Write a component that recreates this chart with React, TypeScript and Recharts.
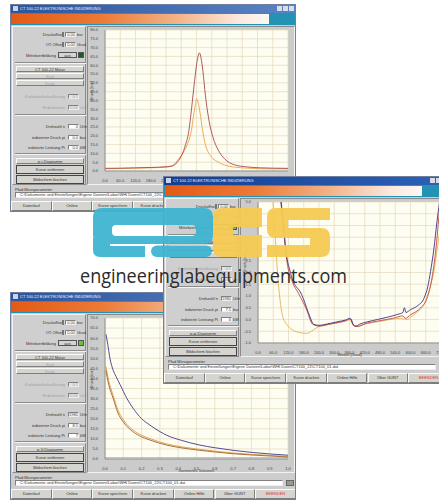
import { LineChart, Line, XAxis, YAxis, CartesianGrid } from 'recharts';

// ---- window 1: p-t diagram (pressure peak) ----
const w1XTicks = [0, 60, 120, 180, 240, 300, 360, 420, 480, 540, 600, 660, 720];
const w1YTicks = [0, 5, 10, 15, 20, 25, 30, 35, 40, 45, 50, 55, 60, 65, 70, 75, 80];
const w1DarkX = [0, 60, 120, 180, 240, 263, 290, 302, 317, 329, 341, 350, 360, 366, 372, 378, 385, 395, 410, 425, 445, 470, 510, 560, 612, 660, 720];
const w1DarkY = [1.5, 1.6, 1.8, 2.0, 2.4, 2.8, 6, 9, 15, 22, 36, 48, 60, 65, 67, 64, 57, 43, 28, 19, 12, 7, 3.5, 2.3, 1.8, 1.6, 1.5];
const w1OrangeX = [0, 60, 120, 180, 240, 263, 290, 310, 329, 340, 348, 355, 360, 366, 374, 383, 393, 405, 418, 440, 470, 510, 560, 612, 660, 720];
const w1OrangeY = [1.2, 1.4, 1.6, 1.8, 2.2, 2.8, 7, 11, 17, 23, 31, 37, 41, 39, 33, 24, 16, 11, 8, 5.5, 3.4, 2.2, 1.6, 1.3, 1.2, 1.2];

// ---- window 2: p-phi diagram, zoomed ----
const w2XTicks = [0, 60, 120, 180, 240, 300, 360, 420, 480, 540, 600, 660, 720];
const w2YTicks = [-1, -0.5, 0, 0.5, 1, 1.5, 2, 2.5, 3, 3.5, 4, 4.5, 5];
const w2NavyX = [60, 80, 90, 99, 112, 125, 138, 150, 165, 178, 191, 205, 218, 240, 260, 290, 320, 345, 360, 366, 375, 385, 400, 430, 470, 510, 550, 570, 576, 582, 600, 630, 653, 668, 679, 692, 704, 714, 720];
const w2NavyY = [9, 6.2, 5.0, 4.15, 2.75, 2.1, 1.62, 1.4, 1.2, 0.9, 0.5, 0.1, -0.2, -0.25, -0.22, -0.15, -0.08, -0.02, 0.05, 0.02, -0.22, -0.28, -0.2, -0.1, 0.0, 0.1, 0.22, 0.3, 0.5, 0.3, 0.42, 0.6, 0.9, 1.4, 2.05, 3.0, 4.15, 5.0, 5.6];
const w2RedX = [70, 92, 105, 118, 135, 160, 190, 215, 240, 290, 345, 362, 376, 390, 430, 480, 530, 570, 580, 600, 640, 665, 685, 700, 712, 720];
const w2RedY = [8, 5.0, 3.3, 2.2, 1.6, 1.1, 0.45, -0.2, -0.28, -0.18, -0.05, 0.02, -0.25, -0.3, -0.15, -0.05, 0.05, 0.15, 0.05, 0.2, 0.5, 0.9, 1.8, 3.0, 4.4, 5.3];
const w2OrangeX = [40, 59, 65, 72, 79, 86, 92, 99, 112, 125, 145, 165, 191, 210, 231, 255, 284, 320, 350, 362, 375, 385, 420, 470, 520, 560, 587, 600, 625, 653, 672, 692, 705, 720];
const w2OrangeY = [9, 5, 4, 2.75, 1.7, 0.9, 0.4, 0.07, -0.2, -0.35, -0.5, -0.56, -0.59, -0.5, -0.35, -0.25, -0.2, -0.12, -0.05, 0.0, -0.25, -0.3, -0.2, -0.1, 0.0, 0.05, 0.0, 0.1, 0.3, 0.64, 1.2, 2.05, 3.0, 4.15];

// ---- window 3: p-V diagram ----
const w3XTicks = [0, 0.1, 0.2, 0.3, 0.4, 0.5, 0.6, 0.7, 0.8, 0.9, 1.0];
const w3YTicks = [0, 5, 10, 15, 20, 25, 30, 35, 40, 45, 50, 55, 60, 65, 70];
const w3NavyX = [0.005, 0.015, 0.027, 0.045, 0.06, 0.082, 0.12, 0.155, 0.2, 0.246, 0.3, 0.337, 0.42, 0.519, 0.6, 0.7, 0.8, 0.9, 1.0];
const w3NavyY = [62, 57, 50, 44, 41, 37, 30, 25, 20, 16.8, 13.6, 11.8, 9.2, 6.9, 5.6, 4.3, 3.3, 2.5, 1.9];
const w3BrownX = [0.005, 0.02, 0.045, 0.07, 0.1, 0.155, 0.2, 0.246, 0.337, 0.42, 0.519, 0.6, 0.7, 0.8, 0.9, 1.0];
const w3BrownY = [44, 37, 30, 23, 18.4, 13.4, 11, 9.4, 6.9, 5.5, 4.3, 3.5, 2.6, 2.0, 1.5, 1.0];
const w3OrangeY = [46, 39, 31.5, 24.5, 19.5, 14.3, 11.8, 10.1, 7.5, 6.0, 4.8, 3.9, 3.0, 2.3, 1.8, 1.3];
const w3BaseX = [0, 1.0];
const w3BaseY = [0.6, 0.6];

const bottomButtons = ['Datenlauf', 'Online', 'Kurve speichern', 'Kurve drucken', 'Online Hilfe', 'Über GUNT', 'BEENDEN'];
const windowTitle = 'CT 100.22 ELEKTRONISCHE INDIZIERUNG';
const filePath = 'C:\\Dokumente und Einstellungen\\Eigene Dateien\\Labor\\WHI Daten\\CT100_22\\CT100_01.dat';

type Series = { x: number[]; y: number[]; color: string };

const pts = (xs: number[], ys: number[]) => xs.map((x, i) => ({ x, y: ys[i] }));

const FONT = '"Liberation Sans", Arial, sans-serif';

function box(l: number, t: number, w: number, h: number, extra: React.CSSProperties = {}): React.CSSProperties {
  return { position: 'absolute', left: l, top: t, width: w, height: h, boxSizing: 'border-box', ...extra };
}

const raised: React.CSSProperties = {
  background: '#d6d4cf',
  borderTop: '1px solid #fafafa',
  borderLeft: '1px solid #fafafa',
  borderRight: '1px solid #7d7d7d',
  borderBottom: '1px solid #7d7d7d',
  fontSize: 4,
  color: '#333',
  textAlign: 'center',
  lineHeight: '5px',
  overflow: 'hidden',
  whiteSpace: 'nowrap',
};

const sunken: React.CSSProperties = {
  background: '#fff',
  borderTop: '1px solid #808080',
  borderLeft: '1px solid #808080',
  borderRight: '1px solid #eee',
  borderBottom: '1px solid #eee',
  fontSize: 4,
  color: '#333',
  lineHeight: '4px',
  overflow: 'hidden',
  whiteSpace: 'nowrap',
};

function Txt({ l, t, w, children, align = 'right', color = '#333' }: { l: number; t: number; w: number; children: React.ReactNode; align?: 'left' | 'right' | 'center'; color?: string }) {
  return (
    <div style={{ ...box(l, t, w, 5), fontSize: 4, lineHeight: '5px', color, textAlign: align, whiteSpace: 'nowrap', overflow: 'hidden' }}>{children}</div>
  );
}

function Sep({ t }: { t: number }) {
  return <div style={{ ...box(2, t, 71, 2), borderTop: '1px solid #8c8c8c', borderBottom: '1px solid #f4f4f4' }} />;
}

function Field({ l, t, label, value, unit, grey = false, lw = 48 }: { l: number; t: number; label: string; value: string; unit: string; grey?: boolean; lw?: number }) {
  const c = grey ? '#a0a0a0' : '#333';
  return (
    <>
      <Txt l={2} t={t} w={lw} color={c}>{label}</Txt>
      <div style={{ ...box(l, t, 11, 5), ...sunken, background: grey ? '#e4e4e4' : '#fff', textAlign: 'right', color: c }}>{value}</div>
      <Txt l={l + 12} t={t} w={12} align="left" color={c}>{unit}</Txt>
    </>
  );
}

function Sidebar({ diagram, green, rpm, pi, Pi }: { diagram: string; green: string; rpm: string; pi: string; Pi: string }) {
  return (
    <div style={{ ...box(1, 21, 74, 159), background: '#cfcfcf', borderTop: '1px solid #f2f2f2', borderLeft: '1px solid #f2f2f2', borderRight: '1px solid #8a8a8a', borderBottom: '1px solid #8a8a8a' }}>
      <Field l={52} t={5} label="Druckoffset" value="0.00" unit="bar" />
      <div style={{ ...box(49, 5, 2, 5), background: '#777' }} />
      <Field l={52} t={15} label="OT-Offset" value="0.00" unit="Grad" />
      <div style={{ ...box(49, 15, 2, 5), background: '#777' }} />
      <Txt l={2} t={26} w={41}>Mittelwertbildung</Txt>
      <div style={{ ...box(45, 25, 19, 6), ...raised, border: '1px solid #555' }}>aus</div>
      <div style={{ ...box(65, 25, 6, 6), background: green, border: '1px solid #555' }} />
      <Sep t={35} />
      <div style={{ ...box(3, 39, 68, 6), ...raised }}>CT 100.22 Motor</div>
      <div style={{ ...box(3, 46, 68, 6), ...raised, color: '#a8a8a8' }}>Start</div>
      <div style={{ ...box(3, 53, 68, 6), ...raised, color: '#a8a8a8' }}>Ende</div>
      <Field l={55} t={67} label="Kurbelwinkelauflösung" value="0.5" unit="" grey lw={50} />
      <Field l={55} t={78} label="Hubvolumen" value="0.00" unit="cm³" grey lw={50} />
      <Sep t={87} />
      <Field l={55} t={97} label="Drehzahl n" value={rpm} unit="U/min" lw={50} />
      <Field l={55} t={108} label="indizierter Druck pi" value={pi} unit="bar" lw={50} />
      <Field l={55} t={118} label="indizierte Leistung Pi" value={Pi} unit="kW" lw={50} />
      <Sep t={126} />
      <div style={{ ...box(3, 131, 68, 6), ...raised }}>{diagram}</div>
      <div style={{ ...box(3, 138, 68, 9), ...raised, border: '1px solid #444', lineHeight: '7px' }}>Kurve entfernen</div>
      <div style={{ ...box(3, 148, 68, 9), ...raised, border: '1px solid #444', lineHeight: '7px' }}>Bildschirm löschen</div>
    </div>
  );
}

type WinProps = {
  left: number;
  top: number;
  z: number;
  active?: boolean;
  xTicks: number[];
  yTicks: number[];
  xDomain: [number, number];
  yDomain: [number, number];
  series: Series[];
  xLabel: string;
  diagram: string;
  green: string;
  rpm: string;
  pi: string;
  Pi: string;
};

function Win(p: WinProps) {
  const fmt = (v: number) => v.toFixed(1);
  return (
    <div style={{ ...box(p.left, p.top, 286, 208), zIndex: p.z, background: '#cdcdcd', border: '1px solid #6f7f9f', fontFamily: FONT, overflow: 'hidden' }}>
      {/* title bar */}
      <div style={{ ...box(0, 0, 286, 8), background: p.active ? 'linear-gradient(90deg,#133f91,#2d62b8)' : 'linear-gradient(90deg,#2a559f,#5a84c4)' }}>
        <div style={{ ...box(2, 1, 5, 5), background: '#c8d4e8' }} />
        <Txt l={9} t={1} w={150} align="left" color="#eef2ff">{windowTitle}</Txt>
        <div style={{ ...box(266, 1, 5, 5), background: '#d8dde8' }} />
        <div style={{ ...box(272, 1, 5, 5), background: '#d8dde8' }} />
        <div style={{ ...box(278, 1, 5, 5), background: '#d8dde8' }} />
      </div>
      {/* orange banner */}
      <div style={{ ...box(0, 8, 286, 12), background: '#2492b2' }} />
      <div style={{ ...box(1, 9, 257, 10), background: 'linear-gradient(90deg,#e45a14 0%,#ec7a36 35%,#f4b48a 65%,#fbe8dc 88%,#fdf8f4 100%)' }} />
      <Sidebar diagram={p.diagram} green={p.green} rpm={p.rpm} pi={p.pi} Pi={p.Pi} />
      {/* chart panel */}
      <div style={{ ...box(76, 21, 208, 159), background: '#cbcbcb', borderTop: '1px solid #8a8a8a', borderLeft: '1px solid #8a8a8a', borderRight: '1px solid #f2f2f2', borderBottom: '1px solid #f2f2f2' }} />
      <div style={{ position: 'absolute', left: 76, top: 21 }}>
        <LineChart width={208} height={162} margin={{ top: 4, right: 7, bottom: 2, left: 4 }}>
          <CartesianGrid stroke="#e2d9bd" strokeWidth={0.7} fill="#fefdf1" />
          <XAxis
            type="number"
            dataKey="x"
            domain={p.xDomain}
            ticks={p.xTicks}
            interval={0}
            allowDataOverflow
            tickFormatter={fmt}
            tick={{ fontSize: 4, fill: '#444', fontFamily: FONT }}
            tickLine={false}
            tickMargin={2}
            axisLine={{ stroke: '#8c8c8c' }}
            height={15}
            label={{ value: p.xLabel, position: 'insideBottom', offset: 2, fontSize: 4, fill: '#444' }}
          />
          <YAxis
            type="number"
            domain={p.yDomain}
            ticks={p.yTicks}
            interval={0}
            allowDataOverflow
            tickFormatter={fmt}
            tick={{ fontSize: 4, fill: '#444', fontFamily: FONT }}
            tickLine={false}
            tickMargin={1}
            axisLine={{ stroke: '#8c8c8c' }}
            width={14}
            label={{ value: 'Druck [bar]', angle: -90, position: 'insideLeft', offset: 1, fontSize: 4, fill: '#444' }}
          />
          {p.series.map((s, i) => (
            <Line
              key={i}
              data={pts(s.x, s.y)}
              dataKey="y"
              type="monotone"
              stroke={s.color}
              strokeWidth={0.9}
              dot={false}
              activeDot={false}
              isAnimationActive={false}
            />
          ))}
        </LineChart>
      </div>
      {/* file path */}
      <Txt l={4} t={182} w={80} align="left">Pfad Messparameter</Txt>
      <div style={{ ...box(4, 187, 268, 6), ...sunken, paddingLeft: 4 }}>{filePath}</div>
      <div style={{ ...box(275, 187, 8, 6), background: '#9a9a8a', border: '1px solid #666' }} />
      {/* bottom buttons */}
      {bottomButtons.map((b, i) => (
        <div key={b} style={{ ...box(i * 40.7, 196, 40.7, 10), ...raised, lineHeight: '8px', color: i === 6 ? '#e03030' : '#333' }}>{b}</div>
      ))}
      <div style={{ ...box(0, 206, 36, 2), background: '#4aa84a' }} />
    </div>
  );
}

function Logo() {
  const blue = '#3fb5d1';
  const yellow = '#f6cb52';
  return (
    <svg width={439} height={502} style={{ position: 'absolute', left: 0, top: 0, zIndex: 10, pointerEvents: 'none' }}>
      <g fill={blue} opacity={0.95}>
        <path fillRule="evenodd" d="M102 208 H204 Q213 208 213 217 V236 Q213 244 204 244 H102 Q93 244 93 235 V217 Q93 208 102 208 Z M116 225 H192 Q196 225 196 229 V232 Q196 236 192 236 H116 Q112 236 112 232 V229 Q112 225 116 225 Z" />
        <path d="M93 238 H110 V246 H145 V257 H100 Q93 257 93 250 Z" />
        <rect x={151} y={245.5} width={61} height={11.5} rx={5.75} />
      </g>
      <g fill={yellow} opacity={0.95}>
        <path d="M222 208 H262 V227 H233 V235 H262 V257 H222 Q213 257 213 248 V217 Q213 208 222 208 Z" />
        <path d="M276 208 H330 V220 H288 V228 H321 Q330 228 330 237 V248 Q330 257 321 257 H267 V245 H310 V238 H276 Q267 238 267 229 V217 Q267 208 276 208 Z" />
      </g>
      <text
        x={80}
        y={283}
        fontFamily='"Open Sans", "Noto Sans", sans-serif'
        fontSize={20}
        fill="#2b2b2b"
        textLength={267}
        lengthAdjust="spacingAndGlyphs"
      >
        engineeringlabequipments.com
      </text>
    </svg>
  );
}

export default function App() {
  const w1: Series[] = [
    { x: w1OrangeX, y: w1OrangeY, color: '#eba24c' },
    { x: w1DarkX, y: w1DarkY, color: '#a4494c' },
  ];
  const w2: Series[] = [
    { x: w2OrangeX, y: w2OrangeY, color: '#e2b458' },
    { x: w2RedX, y: w2RedY, color: '#c4484a' },
    { x: w2NavyX, y: w2NavyY, color: '#3b3183' },
  ];
  const w3: Series[] = [
    { x: w3BaseX, y: w3BaseY, color: '#8fa6e2' },
    { x: w3BrownX, y: w3OrangeY, color: '#e39c44' },
    { x: w3BrownX, y: w3BrownY, color: '#9c6232' },
    { x: w3NavyX, y: w3NavyY, color: '#3f3a8a' },
  ];
  return (
    <div style={{ position: 'fixed', left: 0, top: 0, width: 439, height: 502, overflow: 'hidden', background: '#fff' }}>
      <Win left={10} top={4} z={1} xTicks={w1XTicks} yTicks={w1YTicks} xDomain={[0, 720]} yDomain={[0, 80]} series={w1} xLabel="Winkel [Grad]" diagram="p-t-Diagramm" green="#1f5a26" rpm="0" pi="0.0" Pi="0.0" />
      <Win left={10} top={292} z={2} xTicks={w3XTicks} yTicks={w3YTicks} xDomain={[0, 1]} yDomain={[0, 70]} series={w3} xLabel="normiertes Volumen" diagram="p-V-Diagramm" green="#6cc040" rpm="1980" pi="8.5" Pi="7" />
      <Win left={163} top={176} z={3} active xTicks={w2XTicks} yTicks={w2YTicks} xDomain={[0, 720]} yDomain={[-1, 5]} series={w2} xLabel="Winkel [Grad]" diagram="p-φ-Diagramm" green="#6cc040" rpm="1980" pi="7.5" Pi="6" />
      <Logo />
    </div>
  );
}
